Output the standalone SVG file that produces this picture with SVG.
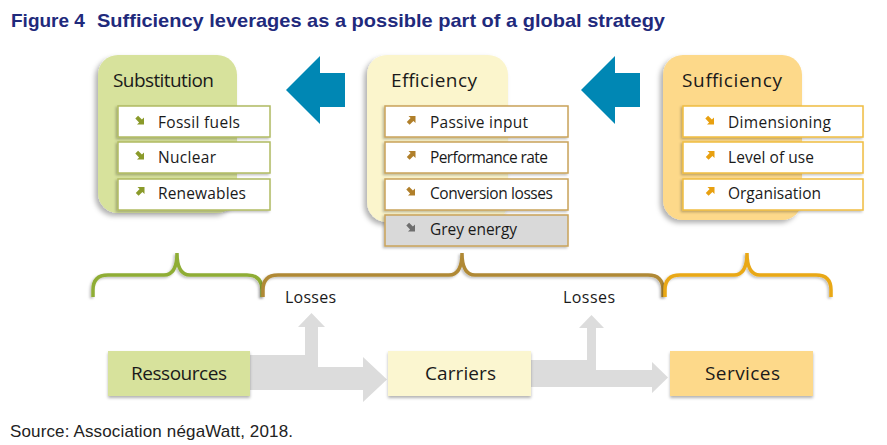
<svg xmlns="http://www.w3.org/2000/svg" xmlns:xlink="http://www.w3.org/1999/xlink" width="887" height="445" viewBox="0 0 887 445">
<defs>
<filter id="sh" x="-20%" y="-20%" width="140%" height="140%"><feDropShadow dx="-3" dy="3" stdDeviation="2.5" flood-color="#000" flood-opacity="0.3"/></filter>
<filter id="sh2" x="-20%" y="-30%" width="140%" height="160%"><feDropShadow dx="-1.5" dy="1.5" stdDeviation="1.2" flood-color="#000" flood-opacity="0.25"/></filter>
<filter id="sh3" x="-10%" y="-30%" width="120%" height="160%"><feDropShadow dx="0" dy="2" stdDeviation="1.5" flood-color="#000" flood-opacity="0.3"/></filter>
<path id="up" d="M1.5,0 H8.5 V7 L6.4,4.9 L2.6,8.7 L-0.2,5.9 L3.6,2.1 Z"/>
<style>
.title{font-family:"Liberation Sans",Arial,sans-serif;font-weight:bold;font-size:19px;fill:#1f2a7c}
.src{font-family:"Liberation Sans",Arial,sans-serif;font-size:17px;fill:#222}
.hd{font-family:"Open Sans","Noto Sans",sans-serif;font-size:19px;fill:#1a1a1a}
.it{font-family:"Open Sans","Noto Sans",sans-serif;font-size:15.5px;fill:#1a1a1a}
.bt{font-family:"Open Sans","Noto Sans",sans-serif;font-size:19px;fill:#1a1a1a}
.ls{font-family:"Open Sans","Noto Sans",sans-serif;font-size:16px;fill:#1a1a1a}
.brace{fill:none;stroke-width:3.5;stroke-linecap:butt;filter:url(#sh2)}
.flow{fill:#dcdcdc}
.blue{fill:#0087b4}
.ig{fill:#8a9a2a}.ib{fill:#b07f2a}.io{fill:#e8a010}.ix{fill:#6e6e6e}
.bg{fill:#fff;stroke:#b0bb62;stroke-width:1.5;filter:url(#sh2)}
.bb{fill:#fff;stroke:#c9a35a;stroke-width:1.5;filter:url(#sh2)}
.bo{fill:#fff;stroke:#f0bd40;stroke-width:1.5;filter:url(#sh2)}
</style>
</defs>

<text class="title" x="11" y="27">Figure 4</text>
<text class="title" x="97" y="27" textLength="568" lengthAdjust="spacingAndGlyphs">Sufficiency leverages as a possible part of a global strategy</text>

<g id="connectors">
<path class="blue" d="M286,90 L320,56 L320,73 L345,73 L345,107 L320,107 L320,124 Z"/>
<path class="blue" d="M581,90 L615,56 L615,73 L640,73 L640,107 L615,107 L615,124 Z"/>
<path class="brace" stroke="#8fad35" d="M93,297 V290 Q93,275 108,275 H164 Q177,275 177,253 Q177,275 190,275 H247 Q262,275 262,290 V297"/>
<path class="brace" stroke="#b08936" d="M263,297 V290 Q263,275 278,275 H449 Q462,275 462,253 Q462,275 475,275 H648 Q663,275 663,290 V297"/>
<path class="brace" stroke="#e9a816" d="M665,297 V290 Q665,275 680,275 H734 Q747,275 747,253 Q747,275 760,275 H816 Q831,275 831,290 V297"/>
<path class="flow" d="M250,355 H305 V327 H298 L311.5,313 L325,327 H318 V367 H363 V357 L387,379.5 L363,402 V390 H250 Z"/>
<path class="flow" d="M531,360 H587 V328 H579 L591.5,315 L604,328 H596 V370 H652 V362 L668,377.5 L652,393 V387 H531 Z"/>
<text class="ls" x="285" y="303" textLength="51">Losses</text>
<text class="ls" x="563" y="303" textLength="52">Losses</text>
</g>

<g id="substitution">
<rect x="98" y="55" width="139" height="158" rx="20" fill="#d7e29c" filter="url(#sh)"/>
<text class="hd" x="113" y="87" textLength="101">Substitution</text>
<rect class="bg" x="118" y="106" width="152" height="31"/>
<use href="#up" class="ig" transform="translate(136,116) rotate(90 4 4)"/>
<text class="it" x="158" y="128" textLength="82">Fossil fuels</text>
<rect class="bg" x="118" y="142" width="152" height="31"/>
<use href="#up" class="ig" transform="translate(136,151) rotate(90 4 4)"/>
<text class="it" x="158" y="163" textLength="58">Nuclear</text>
<rect class="bg" x="118" y="179" width="152" height="31"/>
<use href="#up" class="ig" transform="translate(136,187)"/>
<text class="it" x="158" y="199" textLength="88">Renewables</text>
</g>

<g id="efficiency">
<rect x="367" y="55" width="141" height="167" rx="20" fill="#fbf5cc" filter="url(#sh)"/>
<text class="hd" x="391" y="87" textLength="86">Efficiency</text>
<rect class="bb" x="385" y="106" width="183" height="31"/>
<use href="#up" class="ib" transform="translate(407,116)"/>
<text class="it" x="430" y="128" textLength="98">Passive input</text>
<rect class="bb" x="385" y="142" width="183" height="31"/>
<use href="#up" class="ib" transform="translate(407,151)"/>
<text class="it" x="430" y="163" textLength="118">Performance rate</text>
<rect class="bb" x="385" y="179" width="183" height="31"/>
<use href="#up" class="ib" transform="translate(407,187) rotate(90 4 4)"/>
<text class="it" x="430" y="199" textLength="123">Conversion losses</text>
<rect class="bb" x="385" y="215" width="183" height="31" style="fill:#d9d9d9"/>
<use href="#up" class="ix" transform="translate(407,223) rotate(90 4 4)"/>
<text class="it" x="430" y="235" textLength="87">Grey energy</text>
</g>

<g id="sufficiency">
<rect x="663" y="55" width="139" height="165" rx="20" fill="#fdd98a" filter="url(#sh)"/>
<text class="hd" x="682" y="87" textLength="100">Sufficiency</text>
<rect class="bo" x="683" y="106" width="180" height="31"/>
<use href="#up" class="io" transform="translate(706,116) rotate(90 4 4)"/>
<text class="it" x="728" y="128" textLength="103">Dimensioning</text>
<rect class="bo" x="683" y="142" width="180" height="31"/>
<use href="#up" class="io" transform="translate(706,151)"/>
<text class="it" x="728" y="163" textLength="86">Level of use</text>
<rect class="bo" x="683" y="179" width="180" height="31"/>
<use href="#up" class="io" transform="translate(706,187)"/>
<text class="it" x="728" y="199" textLength="93">Organisation</text>
</g>

<g id="ressources">
<rect x="108" y="351" width="142" height="45" fill="#d7e29c" filter="url(#sh3)"/>
<text class="bt" x="179" y="380" text-anchor="middle" textLength="96">Ressources</text>
</g>
<g id="carriers">
<rect x="388" y="351" width="143" height="45" fill="#fbf6d0" filter="url(#sh3)"/>
<text class="bt" x="460.5" y="380" text-anchor="middle" textLength="71">Carriers</text>
</g>
<g id="services">
<rect x="670" y="351" width="143" height="45" fill="#fdd98a" filter="url(#sh3)"/>
<text class="bt" x="742.5" y="380" text-anchor="middle" textLength="75">Services</text>
</g>

<text class="src" x="10" y="437" textLength="283">Source: Association négaWatt, 2018.</text>
</svg>
